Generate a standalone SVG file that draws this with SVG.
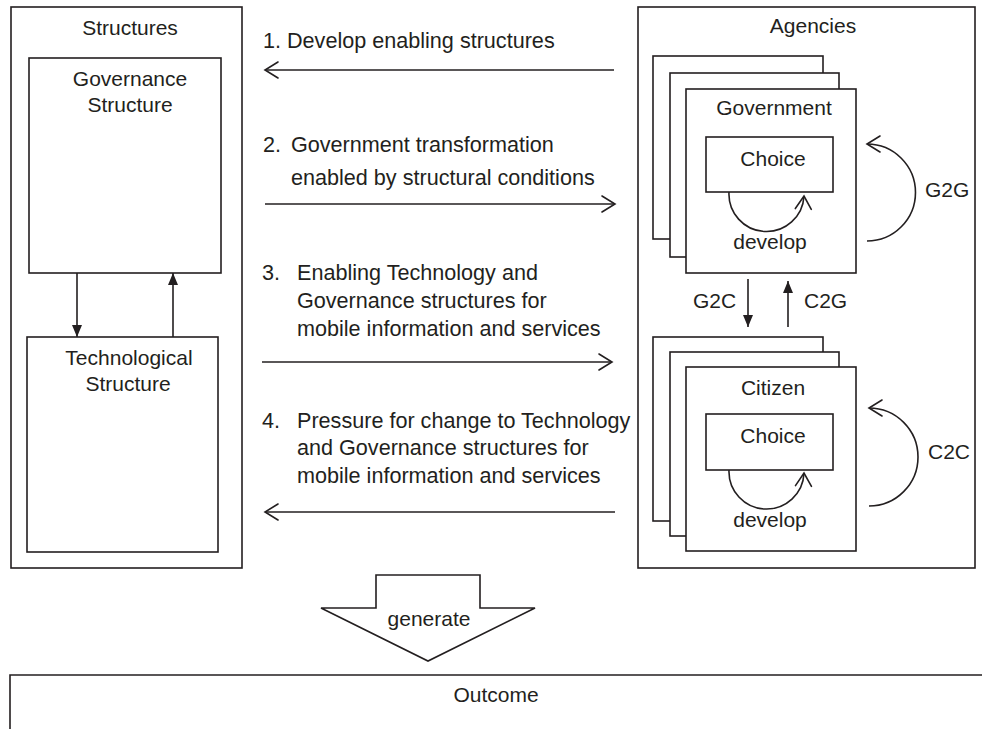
<svg xmlns="http://www.w3.org/2000/svg" width="982" height="729" viewBox="0 0 982 729">
  <defs>
    <style>
      .box { fill: #ffffff; stroke: #231f20; stroke-width: 1.6; }
      .line { fill: none; stroke: #231f20; stroke-width: 1.6; }
      .open { marker-end: url(#chevron); }
      .solid { marker-end: url(#triangle); }
      text { font-family: "Liberation Sans", Arial, Helvetica, sans-serif; font-size: 21px; fill: #231f20; }
      .c { text-anchor: middle; }
      .flow { font-size: 21.6px; }
    </style>
    <!-- open chevron head, tip at the path end -->
    <marker id="chevron" markerUnits="userSpaceOnUse" markerWidth="20" markerHeight="20" refX="0" refY="0" orient="auto" overflow="visible">
      <path d="M-13,-8 L0,0 L-13,8" fill="none" stroke="#231f20" stroke-width="1.6" stroke-linecap="round"/>
    </marker>
    <!-- filled triangular head -->
    <marker id="triangle" markerUnits="userSpaceOnUse" markerWidth="20" markerHeight="20" refX="0" refY="0" orient="auto" overflow="visible">
      <path d="M-12,-5 L0,0 L-12,5 Z" fill="#231f20" stroke="none"/>
    </marker>
  </defs>

  <rect width="982" height="729" fill="#ffffff"/>

  <!-- Structures -->
  <g id="structures">
    <rect class="box" x="11" y="7" width="231" height="561"/>
    <text class="c" x="130" y="35">Structures</text>
  </g>
  <g id="governance-structure">
    <rect class="box" x="29" y="58" width="192" height="215"/>
    <text class="c" x="130" y="86">Governance</text>
    <text class="c" x="130" y="112">Structure</text>
  </g>
  <g id="technological-structure">
    <rect class="box" x="27" y="337" width="191" height="215"/>
    <text class="c" x="129" y="365">Technological</text>
    <text class="c" x="128" y="391">Structure</text>
  </g>

  <!-- Agencies -->
  <g id="agencies">
    <rect class="box" x="638" y="7" width="337" height="561"/>
    <text class="c" x="813" y="33">Agencies</text>
  </g>
  <g id="government">
    <rect class="box" x="653" y="56" width="170" height="183"/>
    <rect class="box" x="670" y="73" width="169" height="184"/>
    <rect class="box" x="686" y="89" width="170" height="184"/>
    <text class="c" x="774" y="115">Government</text>
  </g>
  <g id="government-choice">
    <rect class="box" x="706" y="137" width="127" height="55"/>
    <text class="c" x="773" y="166">Choice</text>
  </g>
  <g id="citizen">
    <rect class="box" x="653" y="337" width="170" height="184"/>
    <rect class="box" x="670" y="352" width="169" height="184"/>
    <rect class="box" x="686" y="367" width="170" height="184"/>
    <text class="c" x="773" y="395">Citizen</text>
  </g>
  <g id="citizen-choice">
    <rect class="box" x="706" y="414" width="127" height="56"/>
    <text class="c" x="773" y="443">Choice</text>
  </g>

  <!-- generate arrow -->
  <g id="generate">
    <polygon class="box" points="376,575 480,575 480,608 535,608 428,661 321,608 376,608"/>
    <text class="c" x="429" y="626">generate</text>
  </g>

  <!-- Outcome (open on the right and bottom) -->
  <g id="outcome">
    <path class="line" d="M10,729 L10,675 L982,675"/>
    <text class="c" x="496" y="702">Outcome</text>
  </g>

  <!-- connectors -->
  <g id="connectors">
    <!-- between the two structures -->
    <path class="line solid" d="M77,273 L77,337"/>
    <path class="line solid" d="M173,337 L173,273"/>

    <!-- numbered flows between Structures and Agencies -->
    <path class="line open" d="M614,70 L265,70"/>
    <path class="line open" d="M265,204 L615,204"/>
    <path class="line open" d="M262,362 L612,362"/>
    <path class="line open" d="M615,512 L265,512"/>

    <!-- government / citizen exchange -->
    <path class="line solid" d="M748,279 L748,327"/>
    <path class="line solid" d="M788,327 L788,281"/>

    <!-- develop loops under each choice -->
    <path class="line open" d="M729,192 A37.5,37.5 0 0 0 804,196"/>
    <path class="line open" d="M729,470 A37.5,37.5 0 0 0 804,473"/>

    <!-- self loops -->
    <path class="line open" d="M867,241 A48.5,48.5 0 0 0 867,144"/>
    <path class="line open" d="M869,506 A49,49 0 0 0 869,408"/>
  </g>

  <!-- connector labels -->
  <g id="labels">
    <text class="flow" x="263" y="48">1.</text>
    <text class="flow" x="287" y="48">Develop enabling structures</text>

    <text class="flow" x="263" y="152">2.</text>
    <text class="flow" x="291" y="152">Government transformation</text>
    <text class="flow" x="291" y="185">enabled by structural conditions</text>

    <text class="flow" x="262" y="280">3.</text>
    <text class="flow" x="297" y="280">Enabling Technology and</text>
    <text class="flow" x="297" y="308">Governance structures for</text>
    <text class="flow" x="297" y="336">mobile information and services</text>

    <text class="flow" x="262" y="428">4.</text>
    <text class="flow" x="297" y="428">Pressure for change to Technology</text>
    <text class="flow" x="297" y="455">and Governance structures for</text>
    <text class="flow" x="297" y="483">mobile information and services</text>

    <text class="c" x="770" y="249">develop</text>
    <text class="c" x="770" y="527">develop</text>
    <text x="925" y="197">G2G</text>
    <text x="928" y="459">C2C</text>
    <text x="693" y="308">G2C</text>
    <text x="804" y="308">C2G</text>
  </g>
</svg>
